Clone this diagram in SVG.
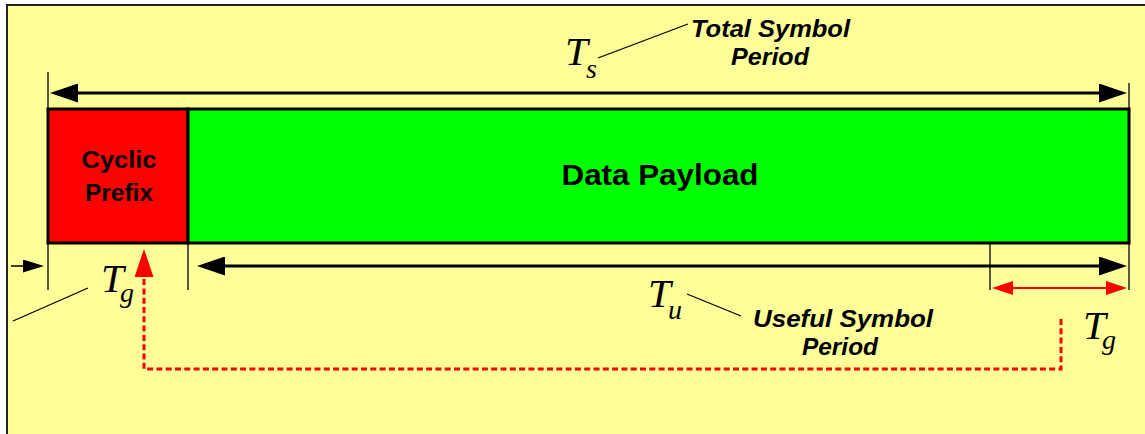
<svg xmlns="http://www.w3.org/2000/svg" width="1145" height="434" viewBox="0 0 1145 434">
  <style>
    .lbl { font-family: "Liberation Sans", Arial, sans-serif; font-weight: bold; fill: #000; }
    .it { font-style: italic; font-size: 23px; }
    .sym { font-family: "Liberation Serif", "Times New Roman", serif; font-style: italic; fill: #000; }
    .big { font-size: 41px; }
    .sub { font-size: 28px; }
    .tick { stroke: #222; stroke-width: 1.5; fill: none; }
    .lead { stroke: #000; stroke-width: 1.3; fill: none; }
  </style>
  <defs>
    <marker id="ah" markerUnits="userSpaceOnUse" markerWidth="28" markerHeight="19" refX="8" refY="9.5" orient="auto-start-reverse">
      <path d="M0,0 L28,9.5 L0,19 z" fill="#000"/>
    </marker>
    <marker id="ahs" markerUnits="userSpaceOnUse" markerWidth="21" markerHeight="13" refX="6" refY="6.5" orient="auto">
      <path d="M0,0 L21,6.5 L0,13 z" fill="#000"/>
    </marker>
    <marker id="ahr" markerUnits="userSpaceOnUse" markerWidth="21" markerHeight="14" refX="6" refY="7" orient="auto-start-reverse">
      <path d="M0,0 L21,7 L0,14 z" fill="#FF0000"/>
    </marker>
    <marker id="ahrb" markerUnits="userSpaceOnUse" markerWidth="28" markerHeight="19" refX="0" refY="9.5" orient="auto">
      <path d="M0,0 L28,9.5 L0,19 z" fill="#FF0000"/>
    </marker>
  </defs>

  <rect id="background" x="7" y="5" width="1150" height="440" fill="#FFFF99" stroke="#222" stroke-width="2"/>

  <g id="connectors">
    <line class="tick" x1="48" y1="72" x2="48" y2="290"/>
    <line class="tick" x1="1129" y1="83" x2="1129" y2="290"/>
    <line class="tick" x1="188" y1="243" x2="188" y2="290"/>
    <line class="tick" x1="990" y1="243" x2="990" y2="290"/>
    <line x1="70" y1="93" x2="1107" y2="93" stroke="#000" stroke-width="3" marker-start="url(#ah)" marker-end="url(#ah)"/>
    <line x1="217" y1="266" x2="1107" y2="266" stroke="#000" stroke-width="3" marker-start="url(#ah)" marker-end="url(#ah)"/>
    <line x1="11" y1="266" x2="29" y2="266" stroke="#000" stroke-width="1.5" marker-end="url(#ahs)"/>
    <line x1="1007" y1="288" x2="1112" y2="288" stroke="#FF0000" stroke-width="2" marker-start="url(#ahr)" marker-end="url(#ahr)"/>
    <path d="M1061,319 V369 H144 V277" fill="none" stroke="#FF0000" stroke-width="3" stroke-dasharray="6 3.3" marker-end="url(#ahrb)"/>
    <line class="lead" x1="13" y1="321" x2="88" y2="288"/>
    <line class="lead" x1="598" y1="58" x2="688" y2="24"/>
    <line class="lead" x1="687" y1="294" x2="741" y2="316"/>
  </g>

  <g id="cyclic-prefix">
    <rect x="48" y="109" width="140" height="134" fill="#FF0000" stroke="#000" stroke-width="3"/>
    <text class="lbl" x="119" y="168" font-size="23" text-anchor="middle" textLength="75" lengthAdjust="spacingAndGlyphs">Cyclic</text>
    <text class="lbl" x="119" y="201" font-size="23" text-anchor="middle" textLength="68" lengthAdjust="spacingAndGlyphs">Prefix</text>
  </g>

  <g id="data-payload">
    <rect x="188" y="109" width="941" height="134" fill="#00FF00" stroke="#000" stroke-width="3"/>
    <text class="lbl" x="660" y="185" font-size="30" text-anchor="middle" textLength="197" lengthAdjust="spacingAndGlyphs">Data Payload</text>
  </g>

  <g id="total-symbol-period">
    <text class="sym big" x="565" y="65">T</text>
    <text class="sym sub" x="586" y="78">s</text>
    <text class="lbl it" x="691" y="37" textLength="159" lengthAdjust="spacingAndGlyphs">Total Symbol</text>
    <text class="lbl it" x="731" y="65" textLength="78" lengthAdjust="spacingAndGlyphs">Period</text>
  </g>

  <g id="useful-symbol-period">
    <text class="sym big" x="648" y="307">T</text>
    <text class="sym sub" x="668" y="319">u</text>
    <text class="lbl it" x="753" y="327" textLength="180" lengthAdjust="spacingAndGlyphs">Useful Symbol</text>
    <text class="lbl it" x="802" y="355" textLength="76" lengthAdjust="spacingAndGlyphs">Period</text>
  </g>

  <g id="guard-left">
    <text class="sym big" x="101" y="292">T</text>
    <text class="sym sub" x="120" y="302">g</text>
  </g>

  <g id="guard-right">
    <text class="sym big" x="1083" y="339">T</text>
    <text class="sym sub" x="1102" y="349">g</text>
  </g>
</svg>
